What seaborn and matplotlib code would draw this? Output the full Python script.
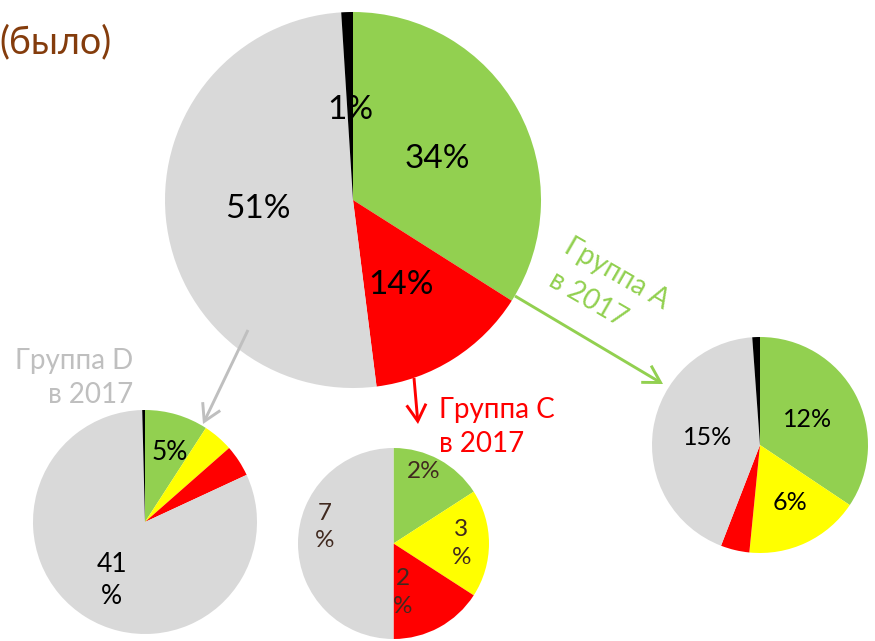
import matplotlib
matplotlib.use("Agg")
import matplotlib.pyplot as plt
from matplotlib.patches import FancyArrowPatch
import numpy as np
import seaborn as sns

# ---------------- data ----------------
slice_names = ["green", "yellow", "red", "gray", "black"]

main_values = [34, 0, 14, 51, 1]
main_labels = ["34%", "", "14%", "51%", "1%"]

a_values = [12, 6, 1.5, 15, 0.4]
a_labels = ["12%", "6%", "", "15%", ""]

c_values = [2, 2.3, 2, 6.3, 0]
c_labels = ["2%", "3\n%", "2\n%", "7\n%", ""]

d_values = [4.6, 2.2, 2.3, 41, 0.2]
d_labels = ["5%", "", "", "41\n%", ""]

title_text = "(было)"
group_a_lines = ["Группа A", "в 2017"]
group_c_text = "Группа C\nв 2017"
group_d_text = "Группа D\nв 2017"

# ---------------- style ----------------
sns.set_theme(style="white")
plt.rcParams["font.family"] = ["Lato", "DejaVu Sans"]

colors = {"green": "#92D050", "yellow": "#FFFF00", "red": "#FF0000",
          "gray": "#D9D9D9", "black": "#000000"}
pal = [colors[n] for n in slice_names]

W, H = 875, 641
fig = plt.figure(figsize=(W / 100, H / 100), dpi=100)
ax = fig.add_axes([0, 0, 1, 1])


def Y(y):
    return H - y


def draw_pie(values, labels, cx, cy, r, dists, offsets, fs, tcolor, lsp=1.2):
    wedges, _ = ax.pie(values, colors=pal, startangle=90, counterclock=False,
                       center=(cx, Y(cy)), radius=r,
                       wedgeprops=dict(linewidth=0))
    for w, lab, d, off in zip(wedges, labels, dists, offsets):
        if not lab:
            continue
        mid = np.deg2rad((w.theta1 + w.theta2) / 2 - off)
        x = cx + d * r * np.cos(mid)
        y = Y(cy) + d * r * np.sin(mid)
        ax.text(x, y, lab, ha="center", va="center", fontsize=fs,
                color=tcolor, linespacing=lsp, multialignment="center")


# main pie
draw_pie(main_values, main_labels, 353, 200, 188,
         [0.5, 0.5, 0.52, 0.51, 0.48], [3, 0, 3, 0, 0], 24, "black")
# group A pie
draw_pie(a_values, a_labels, 760, 445, 108,
         [0.5, 0.6, 0.5, 0.49, 0.5], [0, -2, 0, 0, 0], 18, "black")
# group C pie
draw_pie(c_values, c_labels, 393.5, 543.5, 95.5,
         [0.82, 0.71, 0.52, 0.74, 0.5], [-6, 0, 17.6, 13.5, 0], 17.5, "#40291F",
         lsp=1.4)
# group D pie
draw_pie(d_values, d_labels, 145, 522, 112,
         [0.66, 0.5, 0.5, 0.6, 0.5], [3, 0, 0, -2, 0], 19, "black",
         lsp=1.35)

# title
ax.text(-1, Y(42), title_text, ha="left", va="center", fontsize=27,
        color="#843C0C")

# group labels
ax.text(133, Y(378), group_d_text, ha="right", va="center", fontsize=20,
        color="#BFBFBF", linespacing=1.4, multialignment="right")
ax.text(439, Y(427), group_c_text, ha="left", va="center", fontsize=20,
        color="#FF0000", linespacing=1.4, multialignment="left")
ax.text(617, Y(274), group_a_lines[0], ha="center", va="center", fontsize=20,
        color="#92D050", rotation=-30, rotation_mode="anchor")
ax.text(588, Y(299), group_a_lines[1], ha="center", va="center", fontsize=20,
        color="#92D050", rotation=-30, rotation_mode="anchor")


# arrows
def arrow(x0, y0, x1, y1, c):
    a = FancyArrowPatch((x0, Y(y0)), (x1, Y(y1)),
                        arrowstyle="->,head_length=0.6,head_width=0.35",
                        mutation_scale=20, color=c, lw=2.1,
                        shrinkA=0, shrinkB=0, joinstyle="miter",
                        capstyle="butt")
    ax.add_patch(a)


arrow(248, 330, 203, 424, "#BFBFBF")
arrow(414, 378, 418, 424, "#FF0000")
arrow(515, 296, 663, 384, "#92D050")

ax.set_xlim(0, W)
ax.set_ylim(0, H)
ax.set_aspect("equal")
ax.axis("off")

fig.savefig("out.png", dpi=100, facecolor="white")
